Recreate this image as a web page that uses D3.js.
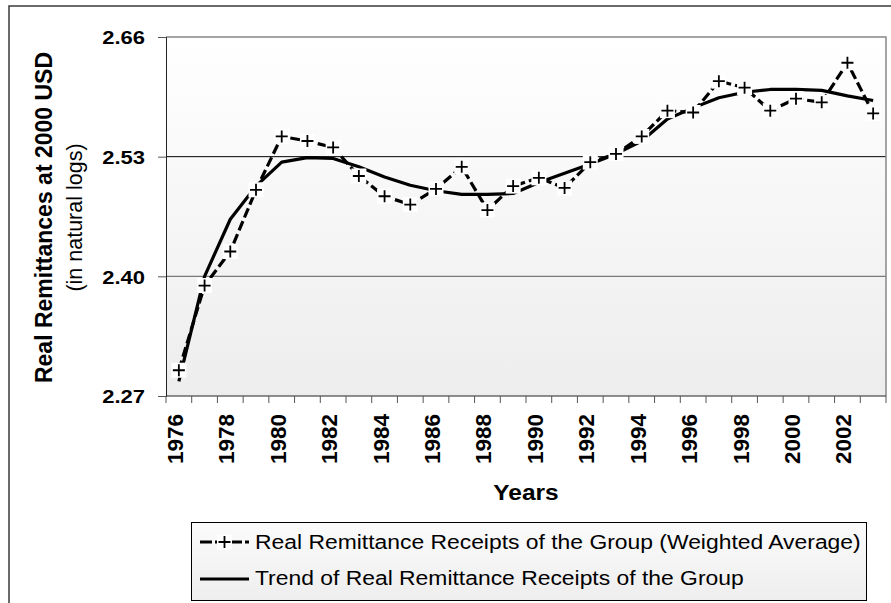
<!DOCTYPE html>
<html>
<head>
<meta charset="utf-8">
<script src="https://cdnjs.cloudflare.com/ajax/libs/d3/7.8.5/d3.min.js"></script>
<style>
  body { margin: 0; background: #fff; }
  svg { display: block; font-family: "Liberation Sans", Arial, sans-serif; }
</style>
</head>
<body>
<div id="chart"></div>
<script>
// Data
var years = [1976, 1977, 1978, 1979, 1980, 1981, 1982, 1983, 1984, 1985,
  1986, 1987, 1988, 1989, 1990, 1991, 1992, 1993, 1994, 1995,
  1996, 1997, 1998, 1999, 2000, 2001, 2002, 2003];

// Real Remittance Receipts of the Group (Weighted Average)
var remittance = [2.298, 2.390, 2.427, 2.494, 2.552, 2.547, 2.540, 2.509, 2.487, 2.478,
  2.495, 2.519, 2.472, 2.498, 2.507, 2.496, 2.524, 2.533, 2.552, 2.580,
  2.578, 2.612, 2.605, 2.580, 2.593, 2.589, 2.632, 2.577];

// Trend of Real Remittance Receipts of the Group
var trend = [2.286, 2.400, 2.462, 2.498, 2.524, 2.529, 2.528, 2.519, 2.508, 2.499,
  2.493, 2.489, 2.489, 2.490, 2.502, 2.512, 2.522, 2.533, 2.547, 2.571,
  2.583, 2.594, 2.600, 2.603, 2.603, 2.602, 2.596, 2.591];

var yTicks = [2.27, 2.40, 2.53, 2.66];
var labelYears = [1976, 1978, 1980, 1982, 1984, 1986, 1988, 1990, 1992, 1994, 1996, 1998, 2000, 2002];

var seriesNames = [
  "Real Remittance Receipts of the Group (Weighted Average)",
  "Trend of Real Remittance Receipts of the Group"
];

// Canvas
var width = 891;
var height = 603;

// Plot area edges
var plotLeft = 166;
var plotTop = 37;
var plotRight = 886;
var plotBottom = 396;

var svg = d3.select("#chart")
  .append("svg")
  .attr("width", width)
  .attr("height", height);

var defs = svg.append("defs");

// Plot background fades from white to light grey
var grad = defs.append("linearGradient")
  .attr("id", "plotFill")
  .attr("x1", 0).attr("y1", 0).attr("x2", 0).attr("y2", 1);
grad.append("stop").attr("offset", "0%").attr("stop-color", "#ffffff");
grad.append("stop").attr("offset", "100%").attr("stop-color", "#ededed");

var legGrad = defs.append("linearGradient")
  .attr("id", "legendFill")
  .attr("x1", 0).attr("y1", 0).attr("x2", 0).attr("y2", 1);
legGrad.append("stop").attr("offset", "0%").attr("stop-color", "#fbfbfb");
legGrad.append("stop").attr("offset", "100%").attr("stop-color", "#eeeeee");

// Outer chart frame (only top and left show in the picture)
svg.append("path")
  .attr("d", "M9," + height + "V6H" + width)
  .attr("fill", "none")
  .attr("stroke", "#3a3a3a")
  .attr("stroke-width", 1.5);

// Scales
var xScale = d3.scaleBand()
  .domain(years)
  .range([plotLeft, plotRight]);

var yScale = d3.scaleLinear()
  .domain([2.27, 2.66])
  .range([plotBottom, plotTop]);

function xc(d) {
  return xScale(d) + xScale.bandwidth() / 2;
}

// Plot area
svg.append("rect")
  .attr("x", plotLeft)
  .attr("y", plotTop)
  .attr("width", plotRight - plotLeft)
  .attr("height", plotBottom - plotTop)
  .attr("fill", "url(#plotFill)");

// Gridlines
svg.append("line")
  .attr("x1", plotLeft).attr("x2", plotRight)
  .attr("y1", yScale(2.53)).attr("y2", yScale(2.53))
  .attr("stroke", "#000").attr("stroke-width", 1);
svg.append("line")
  .attr("x1", plotLeft).attr("x2", plotRight)
  .attr("y1", yScale(2.40)).attr("y2", yScale(2.40))
  .attr("stroke", "#7a7a7a").attr("stroke-width", 1.3);

// Grey border on top and right
svg.append("path")
  .attr("d", "M" + plotLeft + "," + plotTop + "H" + plotRight + "V" + plotBottom)
  .attr("fill", "none")
  .attr("stroke", "#888")
  .attr("stroke-width", 1.5);

// Y axis
var yAxis = d3.axisLeft(yScale)
  .tickValues(yTicks)
  .tickSize(8)
  .tickPadding(13)
  .tickFormat(d3.format(".2f"));

var yAxisG = svg.append("g")
  .attr("transform", "translate(" + plotLeft + ",0)")
  .call(yAxis);
yAxisG.select(".domain").attr("stroke", "#222");
yAxisG.selectAll(".tick line").attr("stroke", "#555");
yAxisG.selectAll("text")
  .attr("font-size", 22)
  .attr("font-weight", "bold")
  .attr("font-family", "Liberation Sans, Arial, sans-serif")
  .attr("fill", "#000")
  .attr("dy", "0.36em")
  .attr("transform", "scale(1,0.86)");

// X axis: tick marks on the category edges
var xAxisG = svg.append("g")
  .attr("transform", "translate(0," + plotBottom + ")");

xAxisG.append("line")
  .attr("x1", plotLeft).attr("x2", plotRight)
  .attr("stroke", "#222");

xAxisG.selectAll(".edge")
  .data(years)
  .enter()
  .append("line")
  .attr("class", "edge")
  .attr("x1", function(d) { return xScale(d); })
  .attr("x2", function(d) { return xScale(d); })
  .attr("y1", 0)
  .attr("y2", 7)
  .attr("stroke", "#555");
xAxisG.append("line")
  .attr("x1", plotRight).attr("x2", plotRight)
  .attr("y1", 0).attr("y2", 7)
  .attr("stroke", "#555");

// Year labels every other category, rotated
var xAxis = d3.axisBottom(xScale)
  .tickValues(labelYears)
  .tickSize(0);

var xLabelG = svg.append("g")
  .attr("transform", "translate(0," + plotBottom + ")")
  .call(xAxis);
xLabelG.select(".domain").remove();
xLabelG.selectAll("text")
  .attr("font-size", 22.5)
  .attr("font-weight", "bold")
  .attr("font-family", "Liberation Sans, Arial, sans-serif")
  .attr("fill", "#000")
  .attr("text-anchor", "end")
  .attr("x", -18)
  .attr("y", 4)
  .attr("dy", 0)
  .attr("transform", "rotate(-90)");

// Axis titles
svg.append("text")
  .attr("transform", "translate(51.5,217.5)rotate(-90)")
  .attr("text-anchor", "middle")
  .attr("font-size", 23)
  .attr("font-weight", "bold")
  .text("Real Remittances at 2000 USD");

svg.append("text")
  .attr("transform", "translate(82,217.5)rotate(-90)")
  .attr("text-anchor", "middle")
  .attr("font-size", 21.5)
  .text("(in natural logs)");

svg.append("text")
  .attr("transform", "translate(" + ((plotLeft + plotRight) / 2) + ",500)scale(1,0.9)")
  .attr("text-anchor", "middle")
  .attr("font-size", 24.5)
  .attr("font-weight", "bold")
  .text("Years");

// Lines (straight segments between years)
var line = d3.line()
  .x(function(d) { return xc(d.year); })
  .y(function(d) { return yScale(d.value); });

var remitData = years.map(function(y, i) { return { year: y, value: remittance[i] }; });
var trendData = years.map(function(y, i) { return { year: y, value: trend[i] }; });

svg.append("path")
  .datum(remitData)
  .attr("d", line)
  .attr("fill", "none")
  .attr("stroke", "#000")
  .attr("stroke-width", 3.2)
  .attr("stroke-linejoin", "round")
  .attr("stroke-dasharray", "10,4");

svg.append("path")
  .datum(trendData)
  .attr("d", line)
  .attr("fill", "none")
  .attr("stroke", "#000")
  .attr("stroke-linejoin", "round")
  .attr("stroke-width", 3.2);

// Plus markers with white backing
function drawMarker(g, cx, cy) {
  g.append("rect")
    .attr("x", cx - 7.5)
    .attr("y", cy - 7.5)
    .attr("width", 15)
    .attr("height", 15)
    .attr("fill", "#fff");
  g.append("path")
    .attr("d", "M" + (cx - 6) + "," + cy + "H" + (cx + 6) + "M" + cx + "," + (cy - 6) + "V" + (cy + 6))
    .attr("stroke", "#000")
    .attr("stroke-width", 1.8);
}

var markers = svg.append("g");
remitData.forEach(function(d) {
  drawMarker(markers, xc(d.year), yScale(d.value));
});

// Legend
var legend = svg.append("g");
legend.append("rect")
  .attr("x", 191.5)
  .attr("y", 522.5)
  .attr("width", 675)
  .attr("height", 78)
  .attr("fill", "url(#legendFill)")
  .attr("stroke", "#000")
  .attr("stroke-width", 1);

legend.append("line")
  .attr("x1", 200).attr("x2", 249)
  .attr("y1", 542).attr("y2", 542)
  .attr("stroke", "#000")
  .attr("stroke-width", 3.2)
  .attr("stroke-dasharray", "12,3");
drawMarker(legend, 224.5, 542);

legend.append("line")
  .attr("x1", 200).attr("x2", 249)
  .attr("y1", 579).attr("y2", 579)
  .attr("stroke", "#000")
  .attr("stroke-width", 3.2);

legend.append("text")
  .attr("transform", "translate(255,548.5)scale(1,0.88)")
  .attr("font-size", 22.9)
  .text(seriesNames[0]);

legend.append("text")
  .attr("transform", "translate(255,584.5)scale(1,0.88)")
  .attr("font-size", 22.9)
  .text(seriesNames[1]);
</script>
</body>
</html>
